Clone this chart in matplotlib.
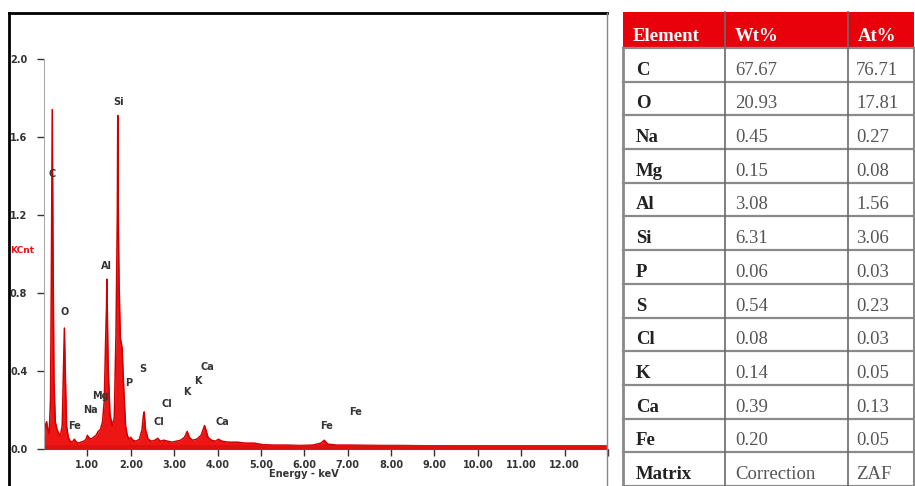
import matplotlib.pyplot as plt
from matplotlib.lines import Line2D
from matplotlib.patches import Rectangle

# EDS spectrum (energy in keV, counts in KCnt)
energy = [0.00, 0.03, 0.06, 0.09, 0.12, 0.15, 0.17, 0.19, 0.21, 0.23, 0.26, 0.30, 0.34, 0.38,
          0.42, 0.45, 0.47, 0.49, 0.52, 0.56, 0.60, 0.65, 0.70, 0.73, 0.78, 0.85, 0.92, 0.97,
          1.00, 1.03, 1.08, 1.14, 1.20, 1.25, 1.30, 1.35, 1.39, 1.42, 1.44, 1.45, 1.46, 1.48,
          1.52, 1.57, 1.62, 1.66, 1.69, 1.70, 1.71, 1.73, 1.76, 1.80, 1.84, 1.88, 1.92, 1.96,
          2.00, 2.05, 2.12, 2.20, 2.26, 2.29, 2.31, 2.34, 2.40, 2.48, 2.56, 2.62, 2.68, 2.76,
          2.85, 2.95, 3.05, 3.15, 3.24, 3.30, 3.35, 3.42, 3.52, 3.62, 3.67, 3.70, 3.73, 3.78,
          3.86, 3.95, 4.02, 4.10, 4.25, 4.45, 4.65, 4.85, 5.05, 5.30, 5.60, 5.90, 6.20, 6.38,
          6.46, 6.54, 6.75, 7.05, 7.40, 7.80, 8.20, 8.60, 9.00, 9.50, 10.00, 10.50, 11.00,
          11.50, 12.00, 12.50, 12.90]
kcnt = [0.02, 0.12, 0.14, 0.10, 0.08, 0.25, 0.90, 1.74, 0.95, 0.35, 0.14, 0.10, 0.08, 0.07,
        0.12, 0.42, 0.62, 0.40, 0.12, 0.06, 0.04, 0.035, 0.05, 0.04, 0.03, 0.035, 0.04, 0.05,
        0.07, 0.06, 0.05, 0.06, 0.07, 0.09, 0.10, 0.14, 0.25, 0.55, 0.72, 0.87, 0.70, 0.42,
        0.18, 0.12, 0.16, 0.60, 1.20, 1.71, 1.25, 0.85, 0.57, 0.52, 0.30, 0.12, 0.07, 0.05,
        0.06, 0.045, 0.04, 0.05, 0.10, 0.17, 0.19, 0.10, 0.05, 0.04, 0.045, 0.055, 0.04, 0.045,
        0.04, 0.035, 0.04, 0.045, 0.06, 0.09, 0.06, 0.045, 0.05, 0.07, 0.10, 0.12, 0.10, 0.06,
        0.045, 0.04, 0.05, 0.04, 0.035, 0.035, 0.03, 0.03, 0.022, 0.02, 0.02, 0.018, 0.02, 0.03,
        0.045, 0.025, 0.02, 0.02, 0.019, 0.018, 0.018, 0.017, 0.016, 0.015, 0.015, 0.014, 0.014,
        0.014, 0.013, 0.013, 0.012]

# peak labels (text, energy, height)
peak_labels = ["C", "O", "Fe", "Na", "Mg", "Al", "Si", "P", "S", "Cl", "Cl", "K", "K",
               "Ca", "Ca", "Fe", "Fe"]
label_x = [0.19, 0.47, 0.71, 1.08, 1.31, 1.45, 1.71, 1.96, 2.28, 2.65, 2.84, 3.29, 3.55,
           3.77, 4.10, 6.52, 7.17]
label_y = [1.41, 0.70, 0.12, 0.20, 0.27, 0.94, 1.78, 0.34, 0.41, 0.14, 0.23, 0.29, 0.35,
           0.42, 0.14, 0.12, 0.19]

# quantification table
elements = ["C", "O", "Na", "Mg", "Al", "Si", "P", "S", "Cl", "K", "Ca", "Fe", "Matrix"]
wt_pct = ["67.67", "20.93", "0.45", "0.15", "3.08", "6.31", "0.06", "0.54", "0.08", "0.14",
          "0.39", "0.20", "Correction"]
at_pct = ["76.71", "17.81", "0.27", "0.08", "1.56", "3.06", "0.03", "0.23", "0.03", "0.05",
          "0.13", "0.05", "ZAF"]
headers = ["Element", "Wt%", "At%"]

W, H = 915, 486
fig = plt.figure(figsize=(W / 100, H / 100), dpi=100)

# ---- spectrum panel ----
ax = fig.add_axes([44 / W, 37 / H, 564 / W, 437 / H])
ax.fill_between(energy, 0, kcnt, color="#ee1515", lw=0)
ax.plot(energy, kcnt, color="#d00000", lw=1.1)
ax.plot([0, 12.9], [0.01, 0.01], color="#e01010", lw=3.5)
ax.set_xlim(0, 13)
ax.set_ylim(0, 2.24)

ax.set_xticks(range(1, 14))
ax.set_xticklabels([f"{v}.00" for v in range(1, 13)] + [""])
ax.set_yticks([0, 0.4, 0.8, 1.2, 1.6, 2.0])
ax.set_yticklabels(["0.0", "0.4", "0.8", "1.2", "1.6", "2.0"])
ax.tick_params(axis="both", labelsize=7, colors="#333333", length=5, width=1)
ax.tick_params(axis="x", pad=3)
ax.tick_params(axis="y", pad=7)
for lab in ax.get_xticklabels() + ax.get_yticklabels():
    lab.set_fontweight("bold")
for s in ["top", "right"]:
    ax.spines[s].set_visible(False)
ax.spines["left"].set_bounds(0, 2.0)
ax.spines["left"].set_color("#aaaaaa")
ax.spines["bottom"].set_color("#555555")
ax.patch.set_alpha(0)

for t, x, y in zip(peak_labels, label_x, label_y):
    ax.text(x, y, t, fontsize=7, fontweight="bold", color="#333333", ha="center", va="center")

ax.text(6.0, -0.13, "Energy - keV", fontsize=7, fontweight="bold", color="#333333",
        ha="center", va="center")
fig.text(10 / W, 1 - 250 / H, "KCnt", fontsize=6.5, fontweight="bold", color="#ee1111",
         ha="left", va="center")

# panel border
fig.add_artist(Line2D([9 / W, 9 / W], [0, 1 - 13 / H], color="black", lw=2))
fig.add_artist(Line2D([9 / W, 607 / W], [1 - 13 / H, 1 - 13 / H], color="black", lw=2))
fig.add_artist(Line2D([607 / W, 607 / W], [0, 1 - 13 / H], color="#888888", lw=1))

# ---- table panel ----
tx = fig.add_axes([615 / W, 0, 300 / W, 1])
tx.set_xlim(615, 915)
tx.set_ylim(486, 0)
tx.axis("off")

col_left = [623, 725, 848]
col_right = 914
top, head_bot, bottom = 12, 48, 486
row_h = (bottom - head_bot) / len(elements)
serif = "Liberation Serif"

tx.add_patch(Rectangle((col_left[0], top), col_right - col_left[0], head_bot - top,
                       color="#e8000b", lw=0))
for c, h in zip(col_left, headers):
    tx.text(c + 10, head_bot - 7, h, fontsize=13.5, fontweight="bold",
            color="white", family=serif, ha="left", va="baseline")

for i in range(len(elements) + 1):
    y = head_bot + i * row_h
    tx.plot([col_left[0], col_right], [y, y], color="#8a8a8a", lw=1.6)
for c in col_left[1:]:
    tx.plot([c, c], [top, bottom], color="#6a6a6a", lw=1.2)
tx.plot([col_left[0], col_left[0]], [head_bot, bottom], color="#8a8a8a", lw=2)
tx.plot([col_right, col_right], [head_bot, bottom], color="#8a8a8a", lw=1.5)

for i, (e, w, a) in enumerate(zip(elements, wt_pct, at_pct)):
    yb = head_bot + (i + 1) * row_h - 7
    tx.text(col_left[0] + 13, yb, e, fontsize=13.5, fontweight="bold", color="#222222",
            family=serif, ha="left", va="baseline")
    tx.text(col_left[1] + 10, yb, w, fontsize=13.5, color="#555555",
            family=serif, ha="left", va="baseline")
    tx.text(col_left[2] + 8, yb, a, fontsize=13.5, color="#555555",
            family=serif, ha="left", va="baseline")

fig.savefig("out.png", dpi=100)
